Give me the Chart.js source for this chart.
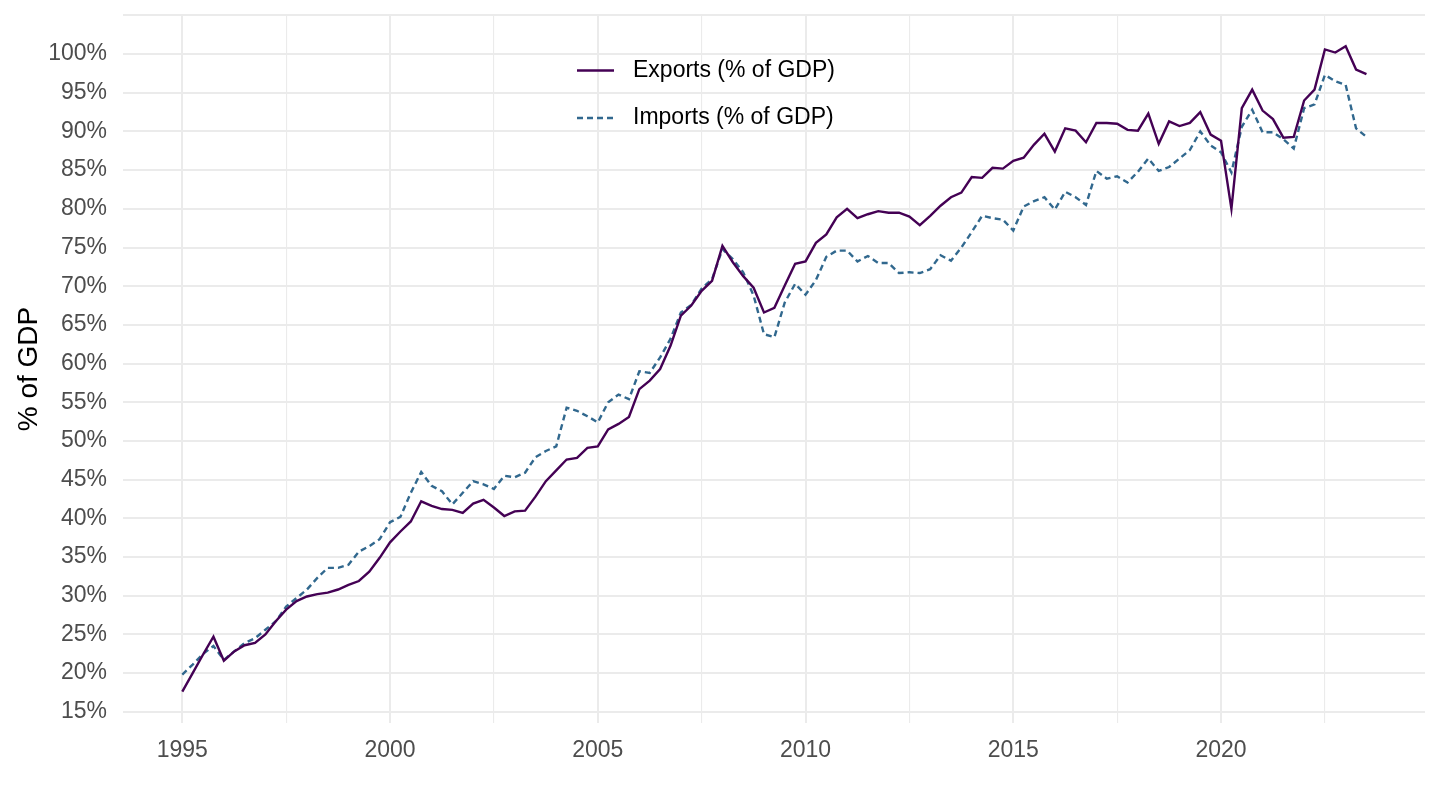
<!DOCTYPE html>
<html>
<head>
<meta charset="utf-8">
<title>Exports and imports, % of GDP</title>
<script src="https://cdn.jsdelivr.net/npm/chart.js@4/dist/chart.umd.min.js"></script>
<style>
  html, body { margin: 0; padding: 0; background: #ffffff; }
  #wrap { width: 1440px; height: 810px; position: relative; }
</style>
</head>
<body>
<div id="wrap"><canvas id="tradeChart"></canvas></div>
<script>
// quarterly series, 1995 Q1 .. 2023 Q3
const startYear = 1995;

const exportsPct = [
  17.6, 20.0, 22.4, 24.7, 21.6, 22.8, 23.6, 23.9, 25.0, 26.7,
  28.2, 29.3, 29.9, 30.2, 30.4, 30.8, 31.4, 31.9, 33.1, 34.9,
  36.9, 38.3, 39.6, 42.2, 41.6, 41.2, 41.1, 40.7, 41.9, 42.4,
  41.4, 40.3, 40.9, 41.0, 42.8, 44.8, 46.2, 47.6, 47.8, 49.1,
  49.3, 51.5, 52.2, 53.1, 56.7, 57.8, 59.3, 62.3, 66.2, 67.5,
  69.4, 70.7, 75.2, 73.1, 71.3, 69.8, 66.6, 67.2, 70.1, 72.9,
  73.2, 75.6, 76.7, 78.9, 80.0, 78.8, 79.3, 79.7, 79.5, 79.5,
  79.0, 77.9, 79.1, 80.4, 81.5, 82.1, 84.1, 84.0, 85.3, 85.2,
  86.2, 86.6, 88.3, 89.7, 87.4, 90.4, 90.1, 88.6, 91.1, 91.1,
  91.0, 90.2, 90.1, 92.3, 88.4, 91.3, 90.7, 91.1, 92.5, 89.6,
  88.8, 80.0, 93.0, 95.4, 92.7, 91.6, 89.2, 89.3, 94.0, 95.4,
  100.6, 100.2, 101.0, 98.0, 97.4,
];

const importsPct = [
  19.8, 21.1, 22.5, 23.5, 21.7, 22.8, 23.9, 24.5, 25.6, 26.7,
  28.6, 29.7, 30.8, 32.3, 33.6, 33.6, 34.0, 35.7, 36.4, 37.3,
  39.5, 40.2, 43.3, 46.0, 44.2, 43.5, 41.8, 43.3, 44.8, 44.4,
  43.8, 45.5, 45.3, 45.9, 47.9, 48.7, 49.3, 54.3, 53.9, 53.2,
  52.4, 55.0, 56.0, 55.4, 59.0, 58.8, 60.8, 63.2, 66.6, 67.6,
  69.7, 70.9, 74.8, 73.5, 71.8, 68.8, 63.8, 63.4, 67.9, 70.3,
  68.9, 70.8, 73.8, 74.6, 74.6, 73.2, 73.9, 73.0, 73.0, 71.7,
  71.8, 71.7, 72.2, 74.0, 73.3, 75.0, 77.0, 79.1, 78.8, 78.6,
  77.2, 80.3, 81.0, 81.5, 79.9, 82.2, 81.5, 80.5, 84.9, 83.9,
  84.2, 83.4, 84.8, 86.5, 84.9, 85.4, 86.5, 87.6, 90.0, 88.2,
  87.3, 84.7, 90.6, 92.8, 89.9, 89.9, 89.0, 87.8, 93.0, 93.5,
  97.3, 96.5, 96.0, 90.4, 89.3,
];

const seriesLabels = ["Exports (% of GDP)", "Imports (% of GDP)"];

// axis ticks: labelled majors plus the minor lines between them
const xTicks = [1995, 1997.5, 2000, 2002.5, 2005, 2007.5, 2010, 2012.5, 2015, 2017.5, 2020, 2022.5];
const yTicks = [
  15, 17.5, 20, 22.5, 25, 27.5, 30, 32.5, 35, 37.5, 40, 42.5, 45, 47.5,
  50, 52.5, 55, 57.5, 60, 62.5, 65, 67.5, 70, 72.5, 75, 77.5, 80, 82.5,
  85, 87.5, 90, 92.5, 95, 97.5, 100, 102.5, 105,
];

const gridColor = "#EBEBEB";
const tickColor = "#4D4D4D";

function toPoints(values) {
  return values.map((v, i) => ({ x: startYear + i / 4, y: v }));
}

function isMajor(value) {
  return Math.abs(value % 5) < 1e-9;
}

// legend drawn inside the panel, like the ggplot original
const insideLegend = {
  id: "insideLegend",
  afterDraw(chart) {
    const ctx = chart.ctx;
    const rows = [70.5, 118];
    ctx.save();
    chart.data.datasets.forEach((ds, i) => {
      const y = rows[i];
      ctx.strokeStyle = ds.borderColor;
      ctx.lineWidth = ds.borderWidth;
      ctx.setLineDash(ds.borderDash || []);
      ctx.beginPath();
      ctx.moveTo(577, y);
      ctx.lineTo(614, y);
      ctx.stroke();
      ctx.setLineDash([]);
      ctx.fillStyle = "#000000";
      ctx.font = '23px "Liberation Sans", Arial, sans-serif';
      ctx.textAlign = "left";
      ctx.textBaseline = "middle";
      ctx.fillText(ds.label, 633, y);
    });
    ctx.restore();
  },
};

function initTradeChart() {
  const canvas = document.getElementById("tradeChart");
  Chart.defaults.font.family = '"Liberation Sans", Arial, sans-serif';

  return new Chart(canvas.getContext("2d"), {
    type: "line",
    data: {
      datasets: [
        {
          label: seriesLabels[0],
          data: toPoints(exportsPct),
          borderColor: "#440154",
          borderWidth: 2.4,
          pointRadius: 0,
          tension: 0,
        },
        {
          label: seriesLabels[1],
          data: toPoints(importsPct),
          borderColor: "#31688E",
          borderWidth: 2.4,
          borderDash: [6, 4],
          pointRadius: 0,
          tension: 0,
        },
      ],
    },
    options: {
      responsive: true,
      maintainAspectRatio: false,
      animation: false,
      layout: { padding: { top: 15, right: 15, left: 0, bottom: 0 } },
      plugins: {
        legend: { display: false },
        tooltip: { enabled: false },
      },
      scales: {
        x: {
          type: "linear",
          min: 1993.573,
          max: 2024.909,
          afterBuildTicks: (scale) => {
            scale.ticks = xTicks.map((v) => ({ value: v }));
          },
          afterFit: (scale) => {
            scale.height = 87;
            scale.paddingLeft = 0;
            scale.paddingRight = 0;
          },
          border: { display: false },
          grid: {
            color: gridColor,
            drawTicks: false,
            lineWidth: (c) => (c.tick && isMajor(c.tick.value) ? 2 : 1.1),
          },
          ticks: {
            autoSkip: false,
            maxRotation: 0,
            padding: 14,
            color: tickColor,
            font: { size: 23 },
            callback: (v) => (isMajor(v) ? String(v) : ""),
          },
        },
        y: {
          min: 13.55,
          max: 105.05,
          afterBuildTicks: (scale) => {
            scale.ticks = yTicks.map((v) => ({ value: v }));
          },
          afterFit: (scale) => {
            scale.width = 123;
            scale.paddingTop = 0;
            scale.paddingBottom = 0;
          },
          border: { display: false },
          grid: {
            color: gridColor,
            drawTicks: false,
            lineWidth: (c) => (c.tick && isMajor(c.tick.value) ? 2 : 1.1),
          },
          ticks: {
            padding: 16,
            color: tickColor,
            font: { size: 23 },
            callback: (v) => (isMajor(v) && v <= 100 ? v + "%" : ""),
          },
          title: {
            display: true,
            text: "% of GDP",
            color: "#000000",
            font: { size: 28 },
            padding: { top: 12, bottom: 0 },
          },
        },
      },
    },
    plugins: [insideLegend],
  });
}

document.addEventListener("DOMContentLoaded", initTradeChart);
</script>
</body>
</html>
